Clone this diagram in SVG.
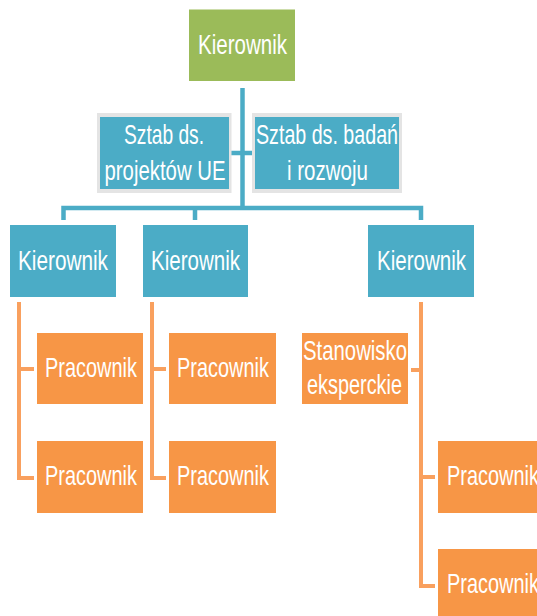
<svg xmlns="http://www.w3.org/2000/svg" width="537" height="616" viewBox="0 0 537 616">
  <style>
    .lead { fill: #9BBB59; }
    .blue { fill: #4BACC6; }
    .frame { fill: #E4E4E4; }
    .orange { fill: #F79646; }
    .lbl { font-family: "Liberation Sans", Arial, sans-serif; font-size: 28px; fill: #FFFFFF; }
    .cb { fill: none; stroke: #4BACC6; stroke-width: 4.5; }
    .co { fill: none; stroke: #F9A05E; stroke-width: 4; }
  </style>
  <rect width="537" height="616" fill="#FFFFFF"/>

  <!-- connectors -->
  <g id="connectors">
    <path class="cb" d="M242.5 88 V208"/>
    <path class="cb" d="M231 153 H252"/>
    <path class="cb" d="M63.5 220 V208 H421 V220"/>
    <path class="cb" d="M195 208 V220"/>
    <path class="co" d="M19 302 V478 H34 M19 369 H34"/>
    <path class="co" d="M152 302 V478 H166 M152 369 H166"/>
    <path class="co" d="M421 302 V586 H435 M421 477 H435 M421 370 H411"/>
  </g>

  <!-- top manager -->
  <g id="head">
    <rect class="lead" x="189" y="9.5" width="106" height="71.5"/>
    <text class="lbl" x="198" y="53.5" textLength="89" lengthAdjust="spacingAndGlyphs">Kierownik</text>
  </g>

  <!-- staff units -->
  <g id="staff-eu">
    <rect class="frame" x="97" y="113" width="134.5" height="80"/>
    <rect class="blue" x="100" y="117" width="129" height="72"/>
    <text class="lbl" x="124" y="143.5" textLength="80" lengthAdjust="spacingAndGlyphs">Sztab ds.</text>
    <text class="lbl" x="104.5" y="180" textLength="121" lengthAdjust="spacingAndGlyphs">projektów UE</text>
  </g>
  <g id="staff-rd">
    <rect class="frame" x="252" y="113" width="150" height="80"/>
    <rect class="blue" x="255" y="117" width="144" height="72"/>
    <text class="lbl" x="256" y="143.5" textLength="142" lengthAdjust="spacingAndGlyphs">Sztab ds. badań</text>
    <text class="lbl" x="287" y="180" textLength="81" lengthAdjust="spacingAndGlyphs">i rozwoju</text>
  </g>

  <!-- second-level managers -->
  <g id="manager-1">
    <rect class="blue" x="10" y="225" width="106" height="72"/>
    <text class="lbl" x="18" y="270" textLength="90" lengthAdjust="spacingAndGlyphs">Kierownik</text>
  </g>
  <g id="manager-2">
    <rect class="blue" x="143" y="225" width="105" height="72"/>
    <text class="lbl" x="151" y="270" textLength="89" lengthAdjust="spacingAndGlyphs">Kierownik</text>
  </g>
  <g id="manager-3">
    <rect class="blue" x="368" y="225" width="106" height="72"/>
    <text class="lbl" x="377" y="270" textLength="89" lengthAdjust="spacingAndGlyphs">Kierownik</text>
  </g>

  <!-- employees -->
  <g id="worker-1a">
    <rect class="orange" x="37" y="333" width="106" height="71"/>
    <text class="lbl" x="45" y="377" textLength="92" lengthAdjust="spacingAndGlyphs">Pracownik</text>
  </g>
  <g id="worker-1b">
    <rect class="orange" x="37" y="441" width="106" height="72"/>
    <text class="lbl" x="45" y="485" textLength="92" lengthAdjust="spacingAndGlyphs">Pracownik</text>
  </g>
  <g id="worker-2a">
    <rect class="orange" x="169" y="333" width="107" height="71"/>
    <text class="lbl" x="177" y="377" textLength="92" lengthAdjust="spacingAndGlyphs">Pracownik</text>
  </g>
  <g id="worker-2b">
    <rect class="orange" x="169" y="441" width="107" height="72"/>
    <text class="lbl" x="177" y="485" textLength="92" lengthAdjust="spacingAndGlyphs">Pracownik</text>
  </g>
  <g id="expert">
    <rect class="orange" x="302" y="333" width="106" height="71"/>
    <text class="lbl" x="303" y="360" textLength="104" lengthAdjust="spacingAndGlyphs">Stanowisko</text>
    <text class="lbl" x="307" y="394" textLength="95" lengthAdjust="spacingAndGlyphs">eksperckie</text>
  </g>
  <g id="worker-3a">
    <rect class="orange" x="438" y="441" width="106" height="72"/>
    <text class="lbl" x="447" y="485" textLength="92" lengthAdjust="spacingAndGlyphs">Pracownik</text>
  </g>
  <g id="worker-3b">
    <rect class="orange" x="438" y="549" width="106" height="72"/>
    <text class="lbl" x="447" y="593" textLength="92" lengthAdjust="spacingAndGlyphs">Pracownik</text>
  </g>
</svg>
